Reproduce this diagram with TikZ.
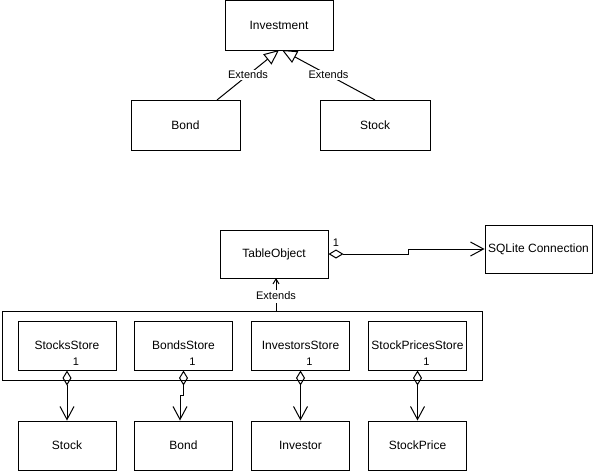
\documentclass[tikz,border=0pt]{standalone}
\usepackage{fontspec}
\setmainfont{Liberation Sans}
\usetikzlibrary{arrows.meta}
\begin{document}
\begin{tikzpicture}[x=1pt,y=-1pt,
  box/.style={draw, line width=1pt, inner sep=0pt, font=\fontsize{12}{14}\selectfont},
  lbl/.style={fill=white, inner sep=1pt, font=\fontsize{11}{13}\selectfont},
  mult/.style={inner sep=0pt, font=\fontsize{11}{13}\selectfont},
  inh/.style={line width=1pt, -{Triangle[open, length=15pt, width=13pt]}},
  ext/.style={line width=1pt, -{Straight Barb[length=5pt, width=6pt]}},
  agg/.style={line width=1pt, {Diamond[open, length=15pt, width=9pt]}-{Straight Barb[length=13pt, width=14pt]}},
]
\useasboundingbox (0,0) rectangle (596,471);
% top part
\node[box, minimum width=108pt, minimum height=50pt] (inv) at (279,25) {Investment};
\node[box, minimum width=109pt, minimum height=50pt] (bondA) at (185.5,125) {Bond};
\node[box, minimum width=110pt, minimum height=50pt] (stockA) at (375,125) {Stock};
\coordinate (invL) at (279,50);
\coordinate (invR) at (282,50);
\coordinate (bondT) at (217,100);
\coordinate (stockT) at (375,100);
\draw[inh] (bondT) -- node[lbl, pos=0.5] {Extends} (invL);
\draw[inh] (stockT) -- node[lbl, pos=0.5] {Extends} (invR);
% bottom part
\node[box, minimum width=108pt, minimum height=48pt] (tab) at (274,254) {TableObject};
\node[box, minimum width=107pt, minimum height=48pt] (sql) at (538.5,249) {SQLite Connection};
\draw[agg] (tab.east) -- ++(80,0) |- (sql.west);
\node[mult] (m0) at (336,243) {1};
\node[box, minimum width=480pt, minimum height=69pt] (cont) at (242,345.5) {};
\coordinate (contT) at (276,311);
\coordinate (tabB) at (276,278);
\draw[line width=1pt] (contT) -- (276,303);
\draw[ext] (276,290) -- (tabB);
\node[lbl, inner sep=0.5pt] (extL) at (276,296) {Extends};
\foreach \n/\x/\t/\b in {s1/67/StocksStore/Stock, s2/183.5/BondsStore/Bond, s3/300.5/InvestorsStore/Investor, s4/417.5/StockPricesStore/StockPrice}{
  \node[box, minimum width=98pt, minimum height=49pt] (\n) at (\x,345.5) {\t};
  \node[mult] (\n m) at (\x+9,362) {1};
  \node[box, minimum width=98pt, minimum height=49pt] (\n b) at (\x,445.5) {\b};
}
\draw[agg] (s1.south) -- (s1b.north);
\draw[agg] (s2.south) -- ++(0,25) -| ([xshift=-3.5pt]s2b.north);
\draw[agg] (s3.south) -- (s3b.north);
\draw[agg] (s4.south) -- (s4b.north);
\end{tikzpicture}
\end{document}
